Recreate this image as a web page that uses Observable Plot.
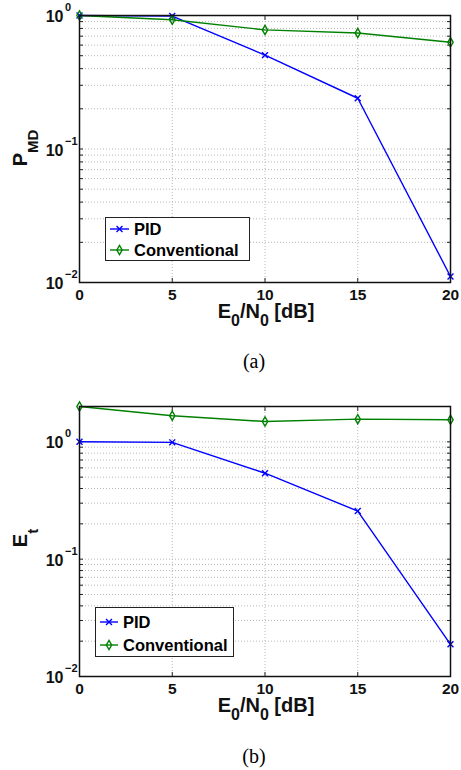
<!DOCTYPE html>
<html>
<head>
<meta charset="utf-8">
<script src="https://cdn.jsdelivr.net/npm/d3@7"></script>
<script src="https://cdn.jsdelivr.net/npm/@observablehq/plot@0.6"></script>
<style>
  html, body { margin: 0; padding: 0; background: #fff; }
  #root { position: relative; width: 461px; height: 770px; overflow: hidden; font-family: "Liberation Sans", Arial, sans-serif; }
  .chart { position: absolute; left: 0; }
  .caption { position: absolute; width: 80px; text-align: center; font-family: "Liberation Serif", "Times New Roman", serif; font-size: 20px; line-height: 22px; color: #000; }
  .legend { position: absolute; background: #fff; border: 1.5px solid #222; box-sizing: border-box; font-weight: bold; font-size: 16.5px; color: #000; }
  .legend .row { position: absolute; left: 0; display: flex; align-items: center; white-space: nowrap; }
  .legend svg { display: block; }
</style>
</head>
<body>
<div id="root"></div>
<script>
// ---- data ----
const snr = [0, 5, 10, 15, 20];               // E0/N0 [dB]
const seriesNames = ["PID", "Conventional"];
const pmdPID = [1.0, 0.99, 0.505, 0.24, 0.0111];
const pmdConv = [1.0, 0.93, 0.78, 0.74, 0.63];
const etPID = [1.0, 0.99, 0.54, 0.257, 0.0188];
const etConv = [2.0, 1.67, 1.49, 1.56, 1.54];
const xTicks = [0, 5, 10, 15, 20];
const yMajor = [1, 0.1, 0.01];
const yExp = ["0", "\u22121", "\u22122"];
const captions = ["(a)", "(b)"];

const colors = {PID: "#0000ff", Conventional: "#008000"};
const symbols = {PID: "times", Conventional: "diamond"};

function minorTicks(domain) {
  const out = [];
  for (let e = -3; e <= 1; e++) for (let m = 1; m <= 9; m++) {
    const v = m * Math.pow(10, e);
    if (v >= domain[0] * 0.999 && v <= domain[1] * 1.001) out.push(v);
  }
  return out;
}

function makeChart(opts) {
  const {pid, conv, yDomain, height, marginTop, marginBottom} = opts;
  const rows = [];
  snr.forEach((x, i) => rows.push({x, y: pid[i], s: "PID"}));
  snr.forEach((x, i) => rows.push({x, y: conv[i], s: "Conventional"}));
  const minors = minorTicks(yDomain);
  const majors = yMajor.filter(v => v >= yDomain[0] * 0.999 && v <= yDomain[1] * 1.001);
  const majorIdx = majors.map(v => yMajor.indexOf(v));
  const gridX = xTicks.filter(v => v > 0 && v < 20);
  const svg = Plot.plot({
    width: 461,
    height,
    marginLeft: 79,
    marginRight: 11,
    marginTop,
    marginBottom,
    style: {fontFamily: "Liberation Sans, Arial, sans-serif", fontWeight: "bold", fontSize: "15px", background: "#fff", overflow: "visible"},
    x: {domain: [0, 20], axis: null},
    y: {type: "log", domain: yDomain, axis: null},
    color: {domain: seriesNames, range: seriesNames.map(s => colors[s])},
    marks: [
      Plot.ruleY(minors, {stroke: "#b8b8b8", strokeWidth: 1, strokeDasharray: "1,2"}),
      Plot.ruleX(gridX, {stroke: "#b8b8b8", strokeWidth: 1, strokeDasharray: "1,2"}),
      // inner tick marks
      Plot.axisY(minors, {anchor: "left", tickSize: -4, tickFormat: () => "", stroke: "#222", label: null}),
      Plot.axisY(minors, {anchor: "right", tickSize: -4, tickFormat: () => "", stroke: "#222", label: null}),
      Plot.axisX(xTicks, {anchor: "bottom", tickSize: -4, tickFormat: () => "", stroke: "#222", label: null}),
      Plot.axisX(xTicks, {anchor: "top", tickSize: -4, tickFormat: () => "", stroke: "#222", label: null}),
      // x tick labels
      Plot.text(xTicks, {x: d => d, frameAnchor: "bottom", lineAnchor: "middle", dy: 12.5, text: d => String(d), fontSize: 15.5, fontWeight: "bold", fill: "#111"}),
      // y tick labels 10^k
      Plot.text(majors, {y: d => d, frameAnchor: "left", lineAnchor: "middle", dx: -16, dy: 1.5, textAnchor: "end", text: () => "10", fontSize: 16, fontWeight: "bold", fill: "#111"}),
      Plot.text(majors, {y: d => d, frameAnchor: "left", lineAnchor: "middle", dx: -14.5, dy: -8, textAnchor: "start", text: (d, i) => yExp[majorIdx[i]], fontSize: 11, fontWeight: "bold", fill: "#111"}),
      Plot.line(rows, {x: "x", y: "y", z: "s", stroke: "s", strokeWidth: 1.4}),
      Plot.dot(rows, {x: "x", y: "y", stroke: "s", symbol: d => symbols[d.s], r: 2.8, fill: "none", strokeWidth: 1.4}),
      Plot.frame({stroke: "#111", strokeWidth: 1.5})
    ]
  });
  // axis titles with subscripts
  const s = d3.select(svg);
  const plotBottom = height - marginBottom;
  const xl = s.append("text")
    .attr("x", 266)
    .attr("y", plotBottom + 36)
    .attr("text-anchor", "middle")
    .attr("font-size", 20)
    .attr("font-weight", "bold")
    .attr("fill", "#111");
  xl.append("tspan").text("E");
  xl.append("tspan").attr("font-size", 16).attr("dy", 8).text("0");
  xl.append("tspan").attr("dy", -8).text("/N");
  xl.append("tspan").attr("font-size", 16).attr("dy", 8).text("0");
  xl.append("tspan").attr("dy", -8).text(" [dB]");
  const yl = s.append("text")
    .attr("transform", `translate(27,${opts.yLabelY}) rotate(-90)`)
    .attr("text-anchor", "middle")
    .attr("font-size", 20)
    .attr("font-weight", "bold")
    .attr("fill", "#111");
  yl.append("tspan").text(opts.yMain);
  yl.append("tspan").attr("font-size", 15).attr("dy", 11).text(opts.ySub);
  return svg;
}

function makeLegend(pos) {
  const lg = document.createElement("div");
  lg.className = "legend";
  Object.assign(lg.style, {left: pos.left + "px", top: pos.top + "px", width: pos.width + "px", height: pos.height + "px"});
  seriesNames.forEach((name, i) => {
    const row = document.createElement("div");
    row.className = "row";
    row.style.top = (pos.rowY[i] - 10) + "px";
    row.style.height = "20px";
    row.style.left = pos.lineLeft + "px";
    const sym = d3.create("svg").attr("width", pos.lineW).attr("height", 20);
    sym.append("line").attr("x1", 0).attr("x2", pos.lineW).attr("y1", 10).attr("y2", 10).attr("stroke", colors[name]).attr("stroke-width", 1.4);
    const path = d3.symbol(name === "PID" ? d3.symbolTimes : d3.symbolDiamond, Math.PI * 2.8 * 2.8)();
    sym.append("path").attr("d", path).attr("transform", `translate(${pos.lineW / 2},10)`).attr("fill", "none").attr("stroke", colors[name]).attr("stroke-width", 1.4);
    row.appendChild(sym.node());
    const t = document.createElement("span");
    t.textContent = name;
    t.style.marginLeft = pos.gap + "px";
    row.appendChild(t);
    lg.appendChild(row);
  });
  return lg;
}

const root = document.getElementById("root");

const c1 = makeChart({pid: pmdPID, conv: pmdConv, yDomain: [0.01, 1], height: 335, marginTop: 15, marginBottom: 53, yMain: "P", ySub: "MD", yLabelY: 148});
c1.classList.add("chart");
c1.style.top = "0px";
c1.style.position = "absolute";
root.appendChild(c1);
root.appendChild(makeLegend({left: 105, top: 217, width: 145, height: 44, rowY: [11, 32], lineLeft: 4, lineW: 19, gap: 5}));

const c2 = makeChart({pid: etPID, conv: etConv, yDomain: [0.01, 2], height: 355, marginTop: 31, marginBottom: 54, yMain: "E", ySub: "t", yLabelY: 163});
c2.classList.add("chart");
c2.style.top = "375px";
c2.style.position = "absolute";
root.appendChild(c2);
root.appendChild(makeLegend({left: 95, top: 607, width: 139, height: 50, rowY: [14, 37], lineLeft: 4, lineW: 18, gap: 5}));

captions.forEach((c, i) => {
  const d = document.createElement("div");
  d.className = "caption";
  d.textContent = c;
  d.style.left = (254 - 40) + "px";
  d.style.top = (i === 0 ? 350 : 745) + "px";
  root.appendChild(d);
});
</script>
</body>
</html>
